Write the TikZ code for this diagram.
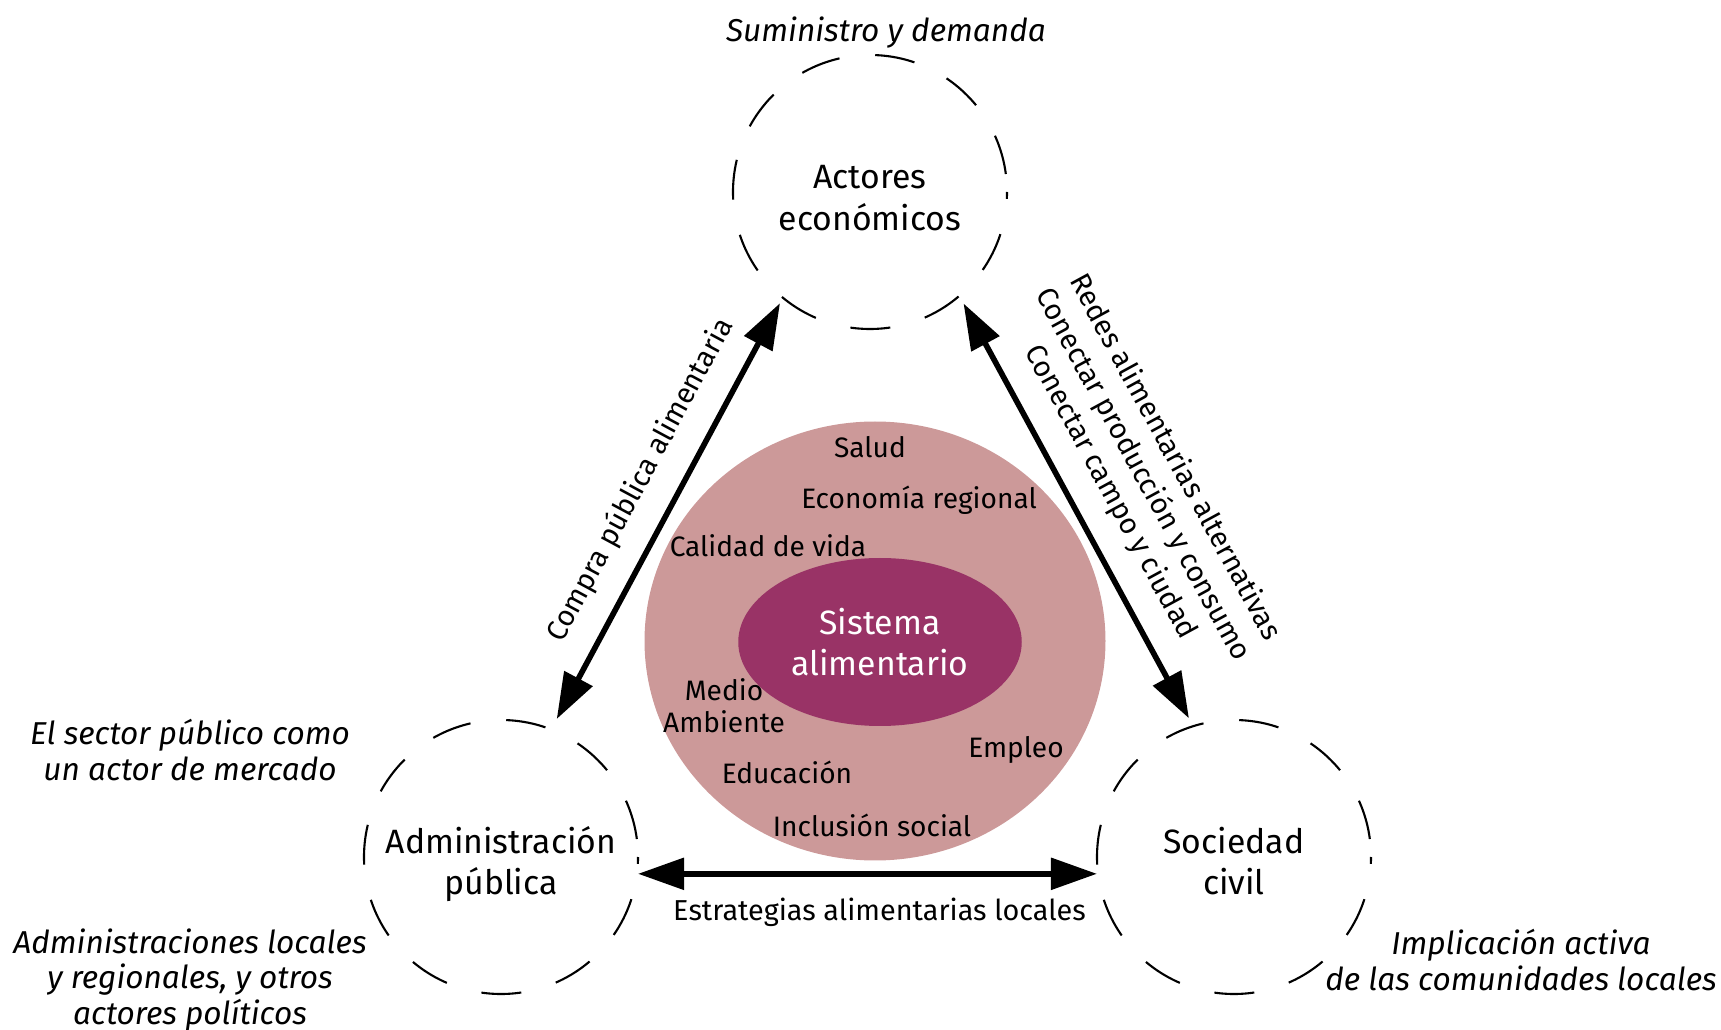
\documentclass[tikz,border=0pt]{standalone}
\usepackage{fontspec}
\setmainfont{Fira Sans}
\usetikzlibrary{arrows.meta,shapes.geometric,calc}
\definecolor{ringpink}{HTML}{CC9999}
\definecolor{coreplum}{HTML}{993366}
\tikzset{actor/.style={circle, draw, minimum size=27.4mm, line width=0.6pt,
  dash pattern=on 4mm off 3.6mm, dash phase=5.8mm},
  actorname/.style={align=center, font=\fontsize{9.6}{11.8}\selectfont},
  note/.style={align=center, font=\itshape\fontsize{9}{10.1}\selectfont},
  goal/.style={align=center, font=\fontsize{8}{9.1}\selectfont},
  link/.style={{Triangle[length=4.6mm,width=3.1mm]}-{Triangle[length=4.6mm,width=3.1mm]},
  line width=1.6pt},
  linklabel/.style={align=center, font=\fontsize{8.2}{10.4}\selectfont}}

\begin{document}
\begin{tikzpicture}[x=0.1mm, y=-0.1mm]
        \useasboundingbox (0, 0) rectangle (1721, 1030);

        \node[ellipse, fill=ringpink, minimum width=46.1mm, minimum height=43.9mm] (ring) at (875, 641) {};
        \node[ellipse, fill=coreplum, minimum width=27.2mm, minimum height=16.8mm, text=white, align=center,
              font=\fontsize{9.6}{11.8}\selectfont] (core) at (880, 642) {Sistema\\alimentario};

        \node[goal] (salud) at (870, 447) {Salud};
        \node[goal] (econ) at (919, 500) {Economía regional};
        \node[goal] (vida) at (768, 546) {Calidad de vida};
        \node[goal] (medio) at (724, 706) {Medio\\Ambiente};
        \node[goal] (empleo) at (1016, 750) {Empleo};
        \node[goal] (educ) at (787, 772) {Educación};
        \node[goal] (incl) at (872, 825) {Inclusión social};

        \node[actor] (act) at (870, 192) {};
        \node[actor] (adm) at (501, 857) {};
        \node[actor] (soc) at (1234, 857) {};
        \node[actorname] (actname) at (870, 198) {Actores\\económicos};
        \node[actorname] (admname) at (501, 864) {Administración\\pública};
        \node[actorname] (socname) at (1234, 861) {Sociedad\\civil};

        \node[note] (suministro) at (886, 33) {Suministro y demanda};
        \node[note] (mercado) at (190, 750) {El sector público como\\un actor de mercado};
        \node[note] (politicos) at (190, 980) {Administraciones locales\\y regionales, y otros\\actores políticos};
        \node[note] (implicacion) at (1521, 960) {Implicación activa\\de las comunidades locales};

        \draw ($(adm.center)!1.078!(adm.68.6)$) edge[link] node[linklabel, sloped, pos=0.53, above=1mm] {Compra pública alimentaria} ($(act.center)!1.036!(act.231.3)$)
              ($(act.center)!1.054!(act.310.5)$) edge[link] node[linklabel, sloped, midway, above=1mm] {Redes alimentarias alternativas\\Conectar producción y consumo\\Conectar campo y ciudad} ($(soc.center)!1.056!(soc.108.1)$)
              (adm.-7.5) edge[link] node[linklabel, midway, below=1mm, xshift=1.2mm] {Estrategias alimentarias locales} (soc.187.5);
    \end{tikzpicture}
\end{document}
